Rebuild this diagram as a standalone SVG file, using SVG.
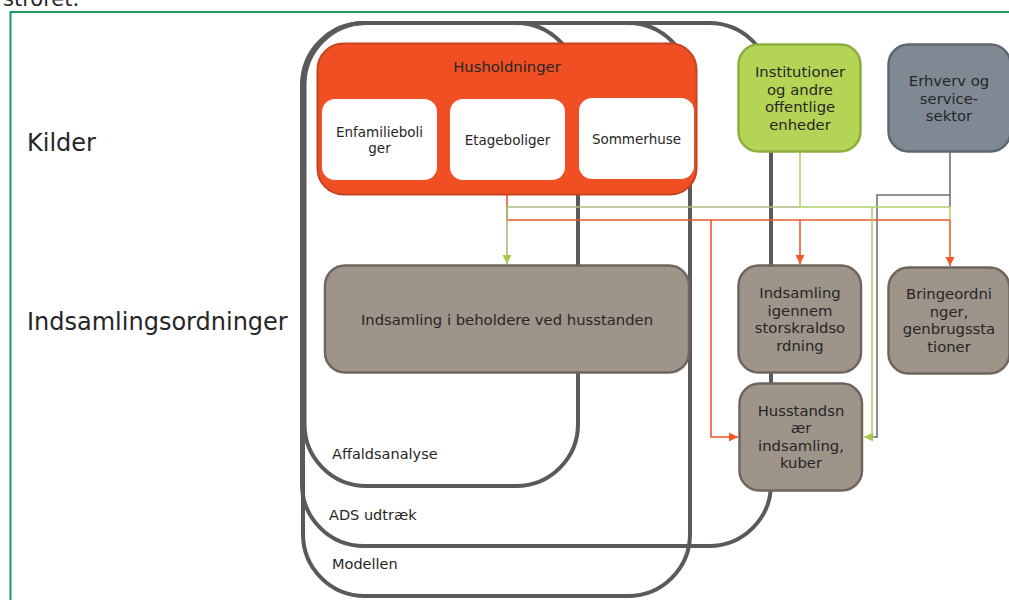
<svg xmlns="http://www.w3.org/2000/svg" width="1009" height="600" viewBox="0 0 1009 600">
<style>
text{font-family:"DejaVu Sans",Verdana,sans-serif;fill:#262626}
.lbl{font-size:24px}
.cl{font-size:14.5px}
.t{font-size:14.8px;text-anchor:middle}
.w{font-size:13.5px;text-anchor:middle}
.cont{fill:none;stroke:#5a5a5a;stroke-width:4}
.brown{fill:#9e948a;stroke:#6f655c;stroke-width:2.5}
.white{fill:#ffffff;stroke:none}
.c{fill:none;stroke-width:1.6}
.or{stroke:#f0582a}
.gr{stroke:#b3d06c}
.grd{stroke:#a9bd80}
.gy{stroke:#6b7279}
</style>
<defs>
<marker id="ao" markerUnits="userSpaceOnUse" markerWidth="10" markerHeight="10" refX="9" refY="5" orient="auto"><path d="M0,0.5 L9,5 L0,9.5 Z" fill="#f0582a"/></marker>
<marker id="ag" markerUnits="userSpaceOnUse" markerWidth="10" markerHeight="10" refX="9" refY="5" orient="auto"><path d="M0,0.5 L9,5 L0,9.5 Z" fill="#a8c84a"/></marker>
</defs>
<rect x="0" y="0" width="1009" height="600" fill="#ffffff"/>
<text x="3" y="5.5" style="font-size:21px">stroret.</text>
<rect x="10.5" y="12" width="1100" height="700" fill="none" stroke="#1e9b5b" stroke-width="2"/>
<text class="lbl" x="27" y="151">Kilder</text>
<text class="lbl" x="27" y="330">Indsamlingsordninger</text>

<g id="containers">
<g id="modellen"><rect class="cont" x="303" y="23" width="387" height="573" rx="62"/><text class="cl" x="332" y="569">Modellen</text></g>
<g id="ads"><rect class="cont" x="302" y="23" width="469" height="523" rx="62"/><text class="cl" x="329" y="520">ADS udtræk</text></g>
<g id="affaldsanalyse"><rect class="cont" x="304.5" y="23" width="273.5" height="463" rx="62"/><text class="cl" x="332" y="459">Affaldsanalyse</text></g>
</g>

<g id="connectors">
<path class="c gy" d="M950,152 V207"/>
<path class="c gy" d="M950,195 H877 V437 H872"/>
<path class="c or" d="M507,195 V220 H950"/>
<path class="c grd" d="M800,207 H507 V264" marker-end="url(#ag)"/>
<path class="c gr" d="M800,152 V207 H950 V220"/>
<path class="c gr" d="M872,207 V437 H864" marker-end="url(#ag)"/>
<path class="c or" d="M800,220 V264" marker-end="url(#ao)"/>
<path class="c or" d="M950,220 V266" marker-end="url(#ao)"/>
<path class="c or" d="M711,220 V437 H738" marker-end="url(#ao)"/>
</g>

<g id="husholdninger">
<rect x="317.5" y="43.5" width="379" height="151" rx="26" fill="#f04e23" stroke="#c5441f" stroke-width="2"/>
<text class="t" x="507" y="72">Husholdninger</text>
</g>
<g id="enfamilieboliger">
<rect class="white" x="322" y="99" width="115" height="81" rx="13"/>
<text class="w" x="379.5" y="137">Enfamilieboli</text>
<text class="w" x="379.5" y="153">ger</text>
</g>
<g id="etageboliger">
<rect class="white" x="450" y="99" width="115" height="81" rx="13"/>
<text class="w" x="507.5" y="145">Etageboliger</text>
</g>
<g id="sommerhuse">
<rect class="white" x="579" y="98" width="115" height="81" rx="13"/>
<text class="w" x="636.5" y="144">Sommerhuse</text>
</g>
<g id="institutioner">
<rect x="738.5" y="44.5" width="122" height="107" rx="20" fill="#b5d455" stroke="#8dae3e" stroke-width="2.5"/>
<text class="t" x="800" y="77">Institutioner</text>
<text class="t" x="800" y="94.5">og andre</text>
<text class="t" x="800" y="112">offentlige</text>
<text class="t" x="800" y="129.5">enheder</text>
</g>
<g id="erhverv">
<rect x="888.5" y="44.5" width="122" height="107" rx="20" fill="#7f8993" stroke="#5f676e" stroke-width="2.5"/>
<text class="t" x="949" y="86">Erhverv og</text>
<text class="t" x="949" y="103.5">service-</text>
<text class="t" x="949" y="121">sektor</text>
</g>
<g id="beholdere">
<rect class="brown" x="325" y="265.5" width="364" height="107" rx="20"/>
<text class="t" x="507" y="325">Indsamling i beholdere ved husstanden</text>
</g>
<g id="storskrald">
<rect class="brown" x="738.5" y="265.5" width="122.5" height="107" rx="20"/>
<text class="t" x="800" y="298">Indsamling</text>
<text class="t" x="800" y="316">igennem</text>
<text class="t" x="800" y="333">storskraldso</text>
<text class="t" x="800" y="351">rdning</text>
</g>
<g id="bringeordninger">
<rect class="brown" x="888.5" y="267.5" width="121" height="106" rx="20"/>
<text class="t" x="949" y="299">Bringeordni</text>
<text class="t" x="949" y="317">nger,</text>
<text class="t" x="949" y="334">genbrugssta</text>
<text class="t" x="949" y="352">tioner</text>
</g>
<g id="husstandsnaer">
<rect class="brown" x="739.5" y="383.5" width="122.5" height="107" rx="20"/>
<text class="t" x="801" y="416">Husstandsn</text>
<text class="t" x="801" y="433">ær</text>
<text class="t" x="801" y="451">indsamling,</text>
<text class="t" x="801" y="468">kuber</text>
</g>
</svg>
